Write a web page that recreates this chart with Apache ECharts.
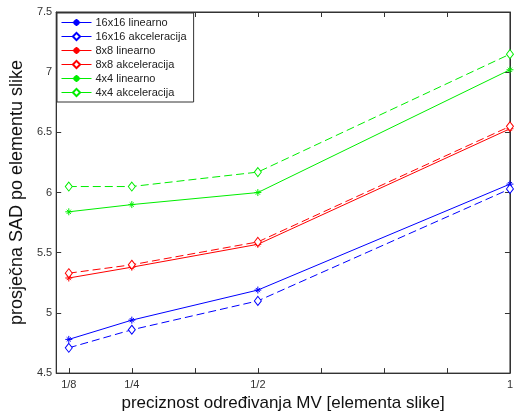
<!DOCTYPE html>
<html>
<head>
<meta charset="utf-8">
<script src="https://cdn.jsdelivr.net/npm/echarts@6/dist/echarts.min.js"></script>
<style>
  html, body { margin: 0; padding: 0; background: #fff; }
  #chart { width: 516px; height: 417px; }
</style>
</head>
<body>
<div id="chart"></div>
<script>
  // x positions (fraction of a pixel) and their labels
  var xValues = [0.125, 0.25, 0.5, 1];
  var xLabels = ['1/8', '1/4', '1/2', '1'];
  var xTicks = [0.125, 0.25, 0.375, 0.5, 0.625, 0.75, 0.875, 1];

  var lin16 = [4.78, 4.94, 5.19, 6.07];
  var acc16 = [4.71, 4.86, 5.10, 6.03];
  var lin8 = [5.29, 5.38, 5.57, 6.53];
  var acc8 = [5.33, 5.40, 5.59, 6.55];
  var lin4 = [5.84, 5.90, 6.00, 7.02];
  var acc4 = [6.05, 6.05, 6.17, 7.15];

  var seriesNames = ['16x16 linearno', '16x16 akceleracija', '8x8 linearno', '8x8 akceleracija', '4x4 linearno', '4x4 akceleracija'];

  var star = 'path://M0,-5L0,5M-5,0L5,0M-3,-3L3,3M-3,3L3,-3';
  var font = 'Liberation Sans, Arial, sans-serif';

  function pairs(vals) {
    var out = [];
    for (var i = 0; i < vals.length; i++) out.push([xValues[i], vals[i]]);
    return out;
  }

  function mkLine(name, vals, color, dashed) {
    return {
      name: name,
      type: 'line',
      data: pairs(vals),
      symbol: dashed ? 'diamond' : star,
      symbolSize: dashed ? [7, 9] : 7,
      showSymbol: true,
      animation: false,
      lineStyle: { color: color, width: 1, type: dashed ? [8, 4] : 'solid' },
      itemStyle: { color: dashed ? '#fff' : color, borderColor: color, borderWidth: 1 }
    };
  }

  var myChart = echarts.init(document.getElementById('chart'));

  var option = {
    backgroundColor: '#fff',
    textStyle: { fontFamily: font },
    grid: { left: 55, right: 2, top: 12, bottom: 39, show: true, borderColor: '#333', borderWidth: 1 },
    legend: {
      orient: 'vertical',
      left: 57,
      top: 13,
      padding: [4, 7, 4, 4],
      itemGap: 3,
      itemWidth: 30,
      itemHeight: 9,
      backgroundColor: '#fff',
      borderColor: '#333',
      borderWidth: 1,
      borderRadius: 0,
      lineStyle: { type: 'solid', width: 1 },
      textStyle: { fontSize: 11, color: '#222', fontFamily: font, padding: [0, 0, 0, -1] },
      data: seriesNames
    },
    xAxis: [{
      type: 'value',
      min: 0.1,
      max: 1,
      name: 'preciznost određivanja MV [elementa slike]',
      nameLocation: 'middle',
      nameGap: 20,
      nameTextStyle: { fontSize: 17, color: '#111', fontFamily: font },
      axisLine: { lineStyle: { color: '#333' } },
      axisTick: { inside: true, length: 5, customValues: xTicks, lineStyle: { color: '#333' } },
      axisLabel: {
        customValues: xValues,
        fontSize: 11,
        color: '#333',
        margin: 6,
        formatter: function (v) {
          var i = xValues.indexOf(v);
          return i >= 0 ? xLabels[i] : '';
        }
      },
      splitLine: { show: false }
    }, {
      type: 'value',
      position: 'top',
      min: 0.1,
      max: 1,
      axisLine: { lineStyle: { color: '#333' } },
      axisTick: { inside: true, length: 5, customValues: xTicks, lineStyle: { color: '#333' } },
      axisLabel: { show: false },
      splitLine: { show: false }
    }],
    yAxis: [{
      type: 'value',
      min: 4.5,
      max: 7.5,
      interval: 0.5,
      name: 'prosječna SAD po elementu slike',
      nameLocation: 'middle',
      nameGap: 28,
      nameTextStyle: { fontSize: 18, color: '#111', fontFamily: font },
      axisLine: { show: true, lineStyle: { color: '#333' } },
      axisTick: { show: true, inside: true, length: 5, lineStyle: { color: '#333' } },
      axisLabel: { fontSize: 11, color: '#333', margin: 4 },
      splitLine: { show: false }
    }, {
      type: 'value',
      position: 'right',
      min: 4.5,
      max: 7.5,
      interval: 0.5,
      axisLine: { show: true, lineStyle: { color: '#333' } },
      axisTick: { show: true, inside: true, length: 5, lineStyle: { color: '#333' } },
      axisLabel: { show: false },
      splitLine: { show: false }
    }],
    series: [
      mkLine(seriesNames[0], lin16, '#0000ff', false),
      mkLine(seriesNames[1], acc16, '#0000ff', true),
      mkLine(seriesNames[2], lin8, '#ff0000', false),
      mkLine(seriesNames[3], acc8, '#ff0000', true),
      mkLine(seriesNames[4], lin4, '#00ee00', false),
      mkLine(seriesNames[5], acc4, '#00ee00', true)
    ]
  };

  option && myChart.setOption(option);
</script>
</body>
</html>
